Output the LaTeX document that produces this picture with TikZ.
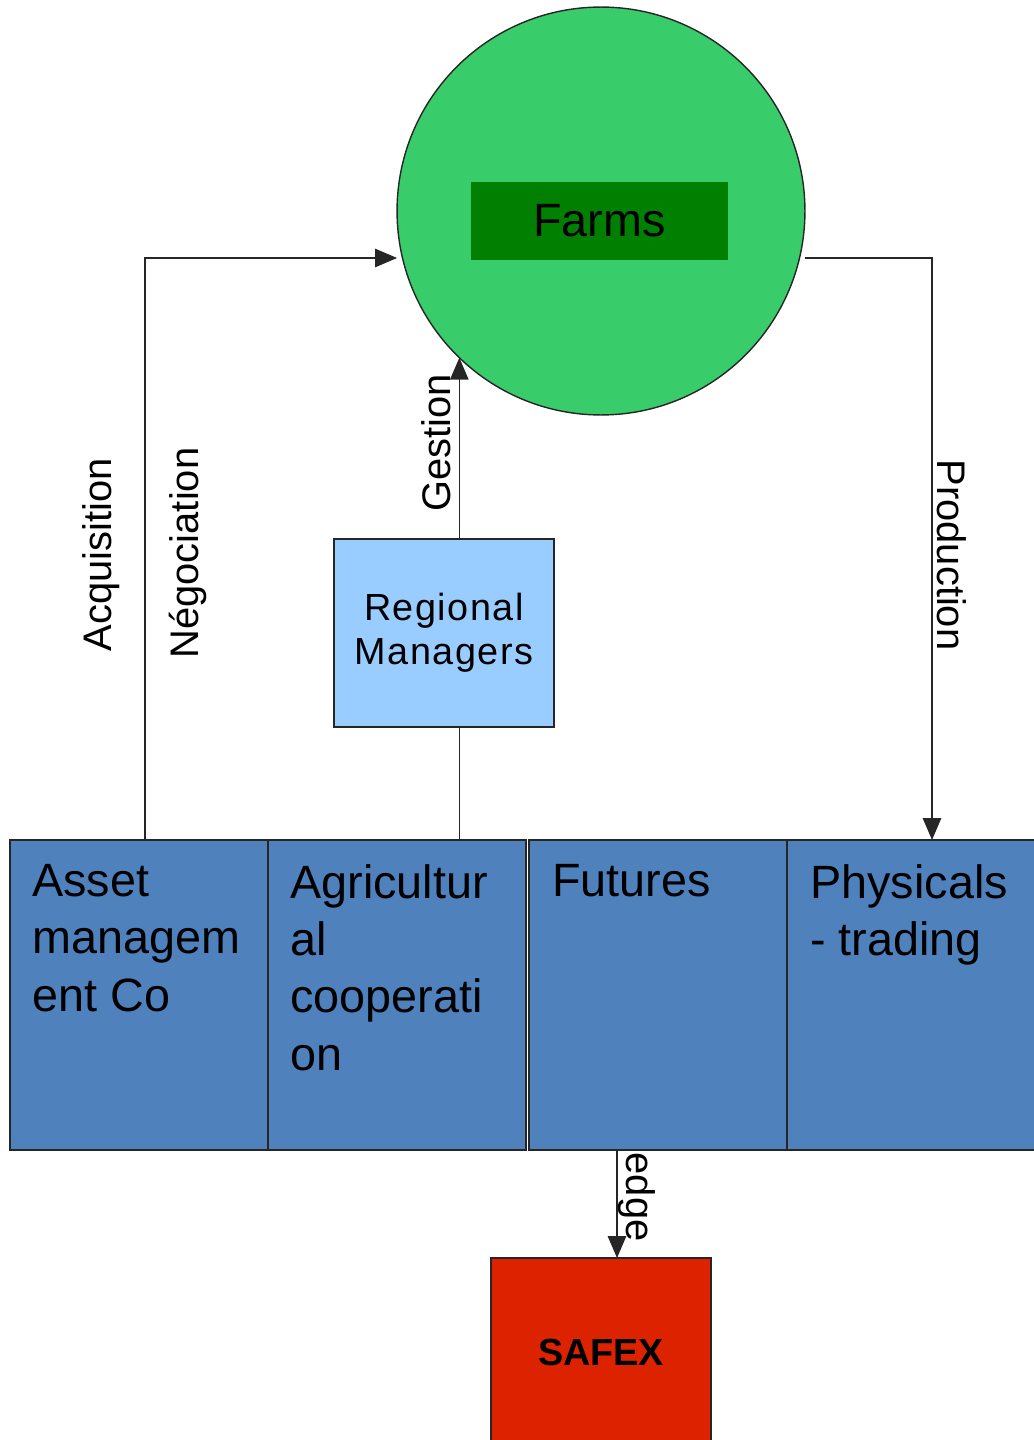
\documentclass[tikz,border=0pt]{standalone}
\usepackage{fontspec}
\setmainfont{Liberation Sans}
\usetikzlibrary{arrows.meta}

\definecolor{farmdisk}{HTML}{38CC6B}
\definecolor{farmbar}{HTML}{007F00}
\definecolor{mgrblue}{HTML}{99CCFF}
\definecolor{unitblue}{HTML}{4F81BD}
\definecolor{safexred}{HTML}{DD2200}

\tikzset{
  unit/.style={rectangle, draw=black!85, line width=0.9pt, inner sep=0pt, outer sep=0pt},
  bluebox/.style={unit, fill=unitblue, minimum width=5.16cm, minimum height=6.2cm},
  boxtext/.style={anchor=north west, inner sep=0pt, align=left, font=\fontsize{26.6}{32.6}\selectfont},
  link/.style={draw=black!85, line width=0.8pt},
  flow/.style={link, -{Triangle[length=12.5pt,width=10.5pt]}},
  flowlabel/.style={inner sep=0pt, font=\fontsize{22.7}{26}\selectfont},
}

\begin{document}
\begin{tikzpicture}[x=0.02cm, y=-0.02cm]
\useasboundingbox (0,0) rectangle (1034,1440);
\clip (0,0) rectangle (1034,1440);

% farms
\node[circle, draw=black!85, line width=0.8pt, fill=farmdisk, minimum size=8.16cm, inner sep=0pt, outer sep=0pt] (farmsdisk) at (601,211) {};
\node[rectangle, fill=farmbar, minimum width=5.14cm, minimum height=1.56cm, font=\fontsize{26.6}{30}\selectfont] (farms) at (599.5,221) {Farms};

% managers
\node[unit, fill=mgrblue, minimum width=4.4cm, minimum height=3.76cm, align=center, font=\fontsize{21.5}{25}\selectfont] (regional) at (444,633) {\addfontfeature{LetterSpace=4}Regional\\\addfontfeature{LetterSpace=4}Managers};

% business units
\node[bluebox] (asset) at (139,995) {};
\node[bluebox] (agri) at (397,995) {};
\node[bluebox] (futures) at (658,995) {};
\node[bluebox] (physical) at (916,995) {};

\node[boxtext] (assettext) at ([shift={(22,24)}]asset.north west) {Asset\\managem\\ent Co};
\node[boxtext] (agritext) at ([shift={(22,24)}]agri.north west) {Agricultur\\al\\cooperati\\on};
\node[boxtext] (futurestext) at ([shift={(23,24)}]futures.north west) {Futures};
\node[boxtext] (physicaltext) at ([shift={(23,24)}]physical.north west) {Physicals\\- trading};

% exchange
\node[unit, fill=safexred, minimum width=4.4cm, minimum height=3.76cm, font=\bfseries\fontsize{21.5}{25}\selectfont] (safex) at (601,1352) {SAFEX};

% connectors
\draw[flow] ([shift={(6,0)}]asset.north) |- ([shift={(0,47)}]farmsdisk.west);
\draw[flow] (farmsdisk.226 |- regional.north) -- (farmsdisk.226);
\draw[link] (farmsdisk.226 |- regional.south) -- (farmsdisk.226 |- agri.north);
\draw[flow] ([shift={(0,47)}]farmsdisk.east) -| ([shift={(16,0)}]physical.north);
\draw[flow] ([shift={(-41,0)}]futures.south) -- ([shift={(-41,0)}]futures.south |- safex.north);

% labels
\node[flowlabel, rotate=90] (acq) at (101,555) {Acquisition};
\node[flowlabel, rotate=90] (nego) at (188,553) {Négociation};
\node[flowlabel, rotate=90] (gestion) at (436,443) {Gestion};
\node[flowlabel, rotate=-90] (prod) at (952,555) {Production};
\node[flowlabel, rotate=-90] (edgelbl) at (637,1197) {edge};
\end{tikzpicture}
\end{document}
